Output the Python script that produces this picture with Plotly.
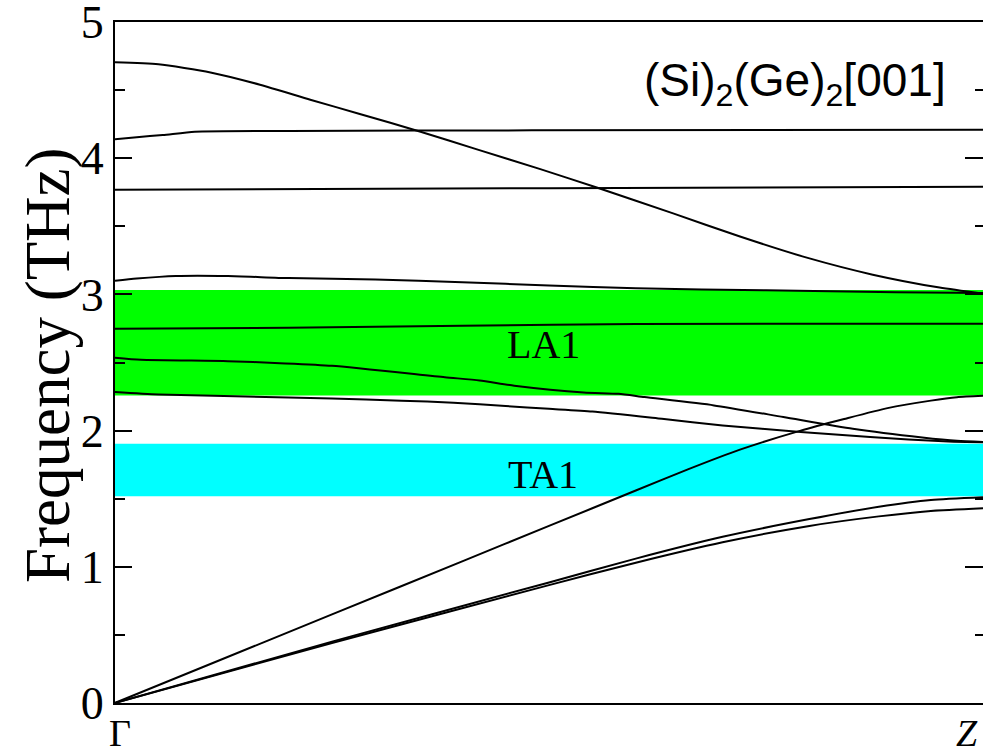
import plotly.graph_objects as go

# Phonon dispersion of the (Si)2(Ge)2 superlattice along [001], Gamma -> Z.
# Wave vector q is in reduced units (0 = Gamma, 1 = Z); frequencies in THz.

q_opt_top = [0.0, 0.05, 0.11, 0.167, 0.225, 0.282, 0.352, 0.417, 0.49, 0.555,
             0.643, 0.72, 0.797, 0.873, 0.95, 1.0]
f_opt_top = [4.705, 4.69, 4.63, 4.54, 4.43, 4.325, 4.195, 4.065, 3.92, 3.785,
             3.595, 3.425, 3.27, 3.145, 3.05, 3.005]

q_opt_42 = [0.0, 0.025, 0.055, 0.092, 0.2, 0.48, 1.0]
f_opt_42 = [4.14, 4.155, 4.17, 4.195, 4.20, 4.205, 4.21]

q_opt_38 = [0.0, 0.5, 1.0]
f_opt_38 = [3.768, 3.78, 3.79]

q_opt_31 = [0.0, 0.025, 0.07, 0.13, 0.2, 0.3, 0.4, 0.5, 0.6, 0.75, 0.9, 1.0]
f_opt_31 = [3.10, 3.116, 3.135, 3.135, 3.12, 3.11, 3.09, 3.065, 3.045, 3.03,
            3.015, 3.01]

q_fold_28 = [0.0, 0.2, 0.4, 0.6, 1.0]
f_fold_28 = [2.747, 2.755, 2.77, 2.783, 2.785]

q_fold_25 = [0.0, 0.03, 0.13, 0.19, 0.25, 0.38, 0.42, 0.46, 0.54, 0.58, 0.61,
             0.69, 0.77, 0.85, 0.93, 0.97, 1.0]
f_fold_25 = [2.535, 2.52, 2.51, 2.495, 2.476, 2.392, 2.368, 2.33, 2.28, 2.27,
             2.246, 2.185, 2.10, 2.014, 1.95, 1.925, 1.916]

q_fold_23 = [0.0, 0.05, 0.15, 0.25, 0.33, 0.39, 0.45, 0.5, 0.55, 0.63, 0.7,
             0.79, 0.87, 0.96, 1.0]
f_fold_23 = [2.283, 2.265, 2.25, 2.235, 2.22, 2.205, 2.18, 2.16, 2.14, 2.087,
             2.038, 1.99, 1.952, 1.92, 1.915]

q_la = [0.0, 0.1, 0.25, 0.4, 0.5, 0.6, 0.66, 0.72, 0.79, 0.84, 0.89, 0.94,
        0.97, 1.0]
f_la = [0.0, 0.26, 0.65, 1.04, 1.30, 1.56, 1.715, 1.86, 2.0, 2.085, 2.165,
        2.22, 2.245, 2.255]

q_ta_up = [0.0, 0.25, 0.5, 0.6, 0.7, 0.8, 0.88, 0.94, 1.0]
f_ta_up = [0.0, 0.45, 0.885, 1.06, 1.22, 1.35, 1.44, 1.49, 1.51]

q_ta_lo = [0.0, 0.25, 0.5, 0.6, 0.7, 0.8, 0.88, 0.94, 1.0]
f_ta_lo = [0.0, 0.44, 0.865, 1.03, 1.18, 1.30, 1.37, 1.41, 1.43]

branches = [
    (q_opt_top, f_opt_top), (q_opt_42, f_opt_42), (q_opt_38, f_opt_38),
    (q_opt_31, f_opt_31), (q_fold_28, f_fold_28), (q_fold_25, f_fold_25),
    (q_fold_23, f_fold_23), (q_la, f_la), (q_ta_up, f_ta_up),
    (q_ta_lo, f_ta_lo),
]

# Frequency windows of the first folded acoustic modes
band_names = ["LA1", "TA1"]
band_low = [2.258, 1.518]
band_high = [3.033, 1.904]
band_colors = ["#00ff00", "#00ffff"]
band_label_q = [0.494, 0.493]
band_label_f = [2.63, 1.68]

title_text = "(Si)<sub>2</sub>(Ge)<sub>2</sub>[001]"
y_title = "Frequency (THz)"
k_labels = ["Γ", "<i>Z</i>"]
y_ticks = [0, 1, 2, 3, 4, 5]

SERIF = "Liberation Serif, Times New Roman, serif"
SANS = "Liberation Sans, Arial, sans-serif"

# plot-area geometry in pixels
L, R, T, B = 115, 983, 22, 703
PW, PH = R - L, B - T

fig = go.Figure()

for q, f in branches:
    fig.add_trace(go.Scatter(x=q, y=f, mode="lines",
                             line=dict(color="black", width=2.0,
                                       shape="spline", smoothing=0.6),
                             hoverinfo="skip", showlegend=False))

for name, lo, hi, col, lq, lf in zip(band_names, band_low, band_high,
                                     band_colors, band_label_q, band_label_f):
    fig.add_shape(type="rect", xref="x", yref="y", x0=0, x1=1, y0=lo, y1=hi,
                  fillcolor=col, line=dict(width=0), layer="below")
    fig.add_annotation(x=lq, y=lf, xref="x", yref="y", text=name,
                       showarrow=False, xanchor="center", yanchor="middle",
                       font=dict(family=SERIF, size=40, color="black"))

# right-hand tick axis (no line, ticks only)
fig.add_trace(go.Scatter(x=[None], y=[None], yaxis="y2", mode="lines",
                         hoverinfo="skip", showlegend=False))

yr = [-0.0005, 5.0005]
fig.update_layout(
    width=983, height=750,
    margin=dict(l=L, r=983 - R, t=T, b=750 - B, autoexpand=False),
    paper_bgcolor="white", plot_bgcolor="white",
    showlegend=False,
    xaxis=dict(range=[0, 1], showgrid=False, zeroline=False, automargin=False,
               showline=True, linecolor="black", linewidth=2, mirror=True,
               showticklabels=False, ticks=""),
    yaxis=dict(range=yr, showgrid=False, zeroline=False, automargin=False,
               showline=True, linecolor="black", linewidth=2,
               tickvals=y_ticks, ticks="inside", ticklen=17,
               tickwidth=2, tickcolor="black", ticklabeloverflow="allow",
               tickfont=dict(family=SERIF, size=46, color="black"),
               minor=dict(dtick=0.5, ticks="inside", ticklen=10, tickwidth=2,
                          tickcolor="black", showgrid=False)),
    yaxis2=dict(range=yr, overlaying="y", side="right", showgrid=False,
                zeroline=False, showline=False, showticklabels=False,
                automargin=False,
                tickvals=y_ticks, ticks="inside", ticklen=18,
                tickwidth=2, tickcolor="black",
                minor=dict(dtick=0.5, ticks="inside", ticklen=8, tickwidth=2,
                           tickcolor="black", showgrid=False)),
)

fig.add_annotation(x=(795 - L) / PW, y=(B - 83) / PH, xref="paper",
                   yref="paper", text=title_text, showarrow=False,
                   xanchor="center", yanchor="middle",
                   font=dict(family=SANS, size=46, color="black"))

fig.add_annotation(x=(48 - L) / PW, y=(B - 365) / PH, xref="paper",
                   yref="paper", text=y_title, textangle=-90, showarrow=False,
                   xanchor="center", yanchor="middle",
                   font=dict(family=SERIF, size=63, color="black"))

for label, px in zip(k_labels, [120, 967]):
    fig.add_annotation(x=(px - L) / PW, y=-(733 - B) / PH, xref="paper",
                       yref="paper", text=label, showarrow=False,
                       xanchor="center", yanchor="middle",
                       font=dict(family=SERIF, size=38, color="black"))

fig.write_html("out.html")
